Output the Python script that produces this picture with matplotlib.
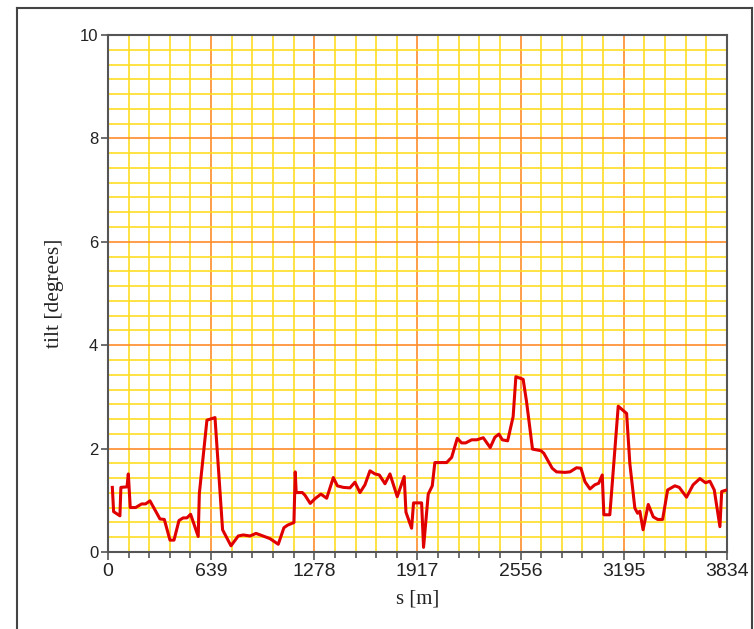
import numpy as np
import matplotlib
matplotlib.use("Agg")
from matplotlib import pyplot as plt
from matplotlib.ticker import MultipleLocator
from matplotlib.lines import Line2D

# s positions [m] and tilt [degrees]
s = [27, 35, 74, 80, 118, 126, 138, 171, 209, 233, 260, 322, 349, 384, 409,
     440, 466, 489, 512, 559, 566, 613, 663, 710, 762, 807, 838, 880, 917,
     952, 1003, 1055, 1090, 1113, 1152, 1160, 1166, 1204, 1220, 1253, 1282,
     1319, 1355, 1396, 1421, 1458, 1499, 1530, 1561, 1592, 1623, 1654, 1681,
     1716, 1747, 1792, 1835, 1846, 1881, 1893, 1943, 1955, 1984, 2009, 2025,
     2056, 2098, 2129, 2164, 2191, 2216, 2253, 2284, 2325, 2368, 2397, 2422,
     2443, 2476, 2510, 2527, 2572, 2593, 2630, 2682, 2700, 2752, 2779, 2831,
     2862, 2903, 2930, 2955, 2986, 3016, 3040, 3062, 3072, 3109, 3161, 3213,
     3233, 3264, 3281, 3295, 3315, 3347, 3378, 3405, 3436, 3467, 3512, 3539,
     3584, 3625, 3667, 3702, 3729, 3756, 3791, 3802, 3833]
tilt = [1.25, 0.78, 0.70, 1.25, 1.26, 1.51, 0.86, 0.86, 0.93, 0.93, 0.99,
        0.64, 0.63, 0.23, 0.23, 0.61, 0.66, 0.66, 0.73, 0.30, 1.13, 2.55,
        2.60, 0.43, 0.12, 0.31, 0.33, 0.31, 0.36, 0.32, 0.26, 0.15, 0.47,
        0.52, 0.57, 1.55, 1.15, 1.15, 1.10, 0.94, 1.03, 1.12, 1.04, 1.44,
        1.28, 1.25, 1.24, 1.35, 1.15, 1.30, 1.57, 1.51, 1.49, 1.32, 1.51,
        1.07, 1.46, 0.77, 0.46, 0.95, 0.95, 0.09, 1.12, 1.28, 1.73, 1.73,
        1.73, 1.83, 2.20, 2.11, 2.11, 2.17, 2.17, 2.21, 2.02, 2.22, 2.28,
        2.17, 2.15, 2.62, 3.39, 3.34, 2.91, 1.99, 1.96, 1.91, 1.62, 1.55,
        1.54, 1.55, 1.63, 1.62, 1.36, 1.22, 1.30, 1.33, 1.49, 0.72, 0.72,
        2.82, 2.68, 1.71, 0.85, 0.75, 0.79, 0.43, 0.92, 0.68, 0.63, 0.63,
        1.20, 1.28, 1.25, 1.06, 1.30, 1.42, 1.34, 1.37, 1.20, 0.49, 1.17,
        1.20]

xticks = [0, 639, 1278, 1917, 2556, 3195, 3834]
yticks = [0, 2, 4, 6, 8, 10]

fig = plt.figure(figsize=(7.54, 6.29), dpi=100)
ax = fig.add_axes([0.1432, 0.1224, 0.8208, 0.822])

ax.plot(s, tilt, color="#e00000", lw=2.2, zorder=5)

ax.set_xlim(0, 3834)
ax.set_ylim(0, 10)
ax.set_xticks(xticks)
ax.set_yticks(yticks)
ax.xaxis.set_minor_locator(MultipleLocator(639 / 5))
ax.yaxis.set_minor_locator(MultipleLocator(2 / 7))

ax.grid(which="minor", color="#ffdd22", lw=1.2, zorder=0)
ax.grid(which="major", color="#ff8c2a", lw=1.2, zorder=1)
ax.set_axisbelow(True)

for sp in ax.spines.values():
    sp.set_color("#555555")
    sp.set_linewidth(1.5)

ax.tick_params(axis="x", which="major", length=6, width=1.2, color="#555555",
               labelsize=14, pad=2)
ax.tick_params(axis="x", which="minor", length=4, width=1.2, color="#555555")
ax.tick_params(axis="y", which="major", length=5, width=1.2, color="#555555",
               labelsize=12, pad=2)
ax.tick_params(axis="y", which="minor", length=0)
for lab in ax.get_xticklabels() + ax.get_yticklabels():
    lab.set_fontfamily("Liberation Sans")
    lab.set_color("#222222")

ax.set_xlabel("s [m]", fontsize=15, family="Liberation Serif", color="#222222",
              labelpad=7)
ax.set_ylabel("tilt [degrees]", fontsize=15.5, family="Liberation Serif",
              color="#222222", labelpad=11)

# outer frame around the whole picture
fx0, fx1 = 16.5 / 754, 752 / 754
fy1 = 1 - 8 / 629
for xs, ys in [([fx0, fx0], [0, fy1]), ([fx0, fx1], [fy1, fy1]),
               ([fx1, fx1], [0, fy1])]:
    fig.add_artist(Line2D(xs, ys, transform=fig.transFigure, color="#444444",
                          lw=1.5))

fig.savefig("out.png", dpi=100)
